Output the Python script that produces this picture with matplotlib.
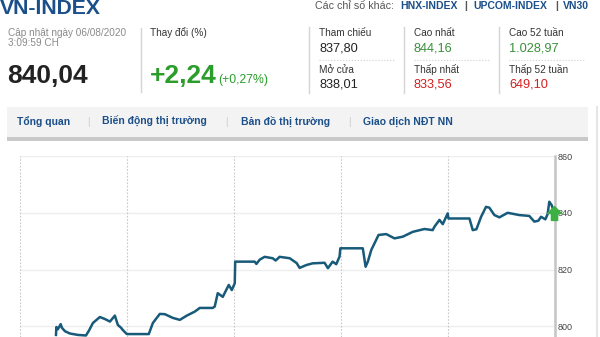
import matplotlib
matplotlib.use('Agg')
import matplotlib.pyplot as plt
from matplotlib.lines import Line2D
from matplotlib.patches import Rectangle
from matplotlib.path import Path

plt.rcParams['font.family'] = ['Liberation Sans', 'DejaVu Sans']

# intraday index, x in sessions (dashed grid = session start)
t = [0.336, 0.340, 0.354, 0.380, 0.392, 0.420, 0.466, 0.541, 0.616, 0.644,
     0.681, 0.746, 0.793, 0.840, 0.886, 0.914, 0.942, 0.961, 0.998, 1.203,
     1.241, 1.306, 1.353, 1.427, 1.493, 1.558, 1.632, 1.679, 1.800, 1.819,
     1.847, 1.894, 1.950, 1.978, 2.006, 2.010, 2.192, 2.208, 2.239, 2.285,
     2.360, 2.388, 2.425, 2.519, 2.584, 2.612, 2.674, 2.733, 2.845, 2.876,
     2.920, 2.954, 2.985, 2.992, 3.202, 3.228, 3.249, 3.281, 3.312, 3.349,
     3.421, 3.498, 3.576, 3.669, 3.778, 3.855, 3.871, 3.918, 3.949, 3.995,
     4.002, 4.198, 4.229, 4.263, 4.307, 4.353, 4.384, 4.431, 4.478, 4.555,
     4.664, 4.757, 4.804, 4.841, 4.867, 4.907, 4.928, 4.944, 4.966, 4.981,
     4.991]
vals = [797.0, 799.8, 799.0, 800.8, 799.5, 798.3, 797.5, 797.0, 796.8, 798.5,
        801.2, 803.3, 802.6, 801.7, 803.8, 800.5, 799.6, 798.7, 797.3, 797.3,
        801.2, 804.4, 804.3, 803.0, 802.3, 803.8, 805.2, 806.5, 806.5, 807.0,
        811.7, 810.4, 814.6, 812.8, 815.2, 822.8, 822.8, 822.0, 823.5, 824.5,
        824.0, 823.2, 824.5, 824.0, 822.3, 820.6, 821.6, 822.2, 822.4, 820.5,
        822.8, 821.9, 824.6, 827.5, 827.5, 821.0, 822.8, 826.9, 829.3, 832.2,
        832.5, 831.0, 831.6, 833.3, 834.3, 833.9, 835.1, 837.5, 836.0, 839.8,
        838.0, 838.0, 833.9, 834.2, 838.6, 842.1, 841.8, 839.2, 838.4, 840.0,
        839.2, 838.9, 836.9, 837.2, 838.6, 837.7, 839.5, 843.9, 842.7, 841.0,
        840.04]
y_ticks = [800, 820, 840, 860]

stats = [
    ("Tham chiếu", "837,80", "#222222", "Mở cửa", "838,01", "#222222"),
    ("Cao nhất", "844,16", "#3a8f3a", "Thấp nhất", "833,56", "#d42020"),
    ("Cao 52 tuần", "1.028,97", "#3a8f3a", "Thấp 52 tuần", "649,10", "#d42020"),
]
tabs = ["Tổng quan", "Biến động thị trường", "Bản đồ thị trường", "Giao dịch NĐT NN"]

W, H = 600, 337
fig = plt.figure(figsize=(W / 100, H / 100), dpi=100)
fig.patch.set_facecolor('white')


def fx(x):
    return x / W


def fy(y):
    return 1 - y / H


def txt(x, y, s, size, color, weight='normal'):
    fig.text(fx(x), fy(y), s, fontsize=size, color=color, weight=weight,
             ha='left', va='baseline')


def hline(x0, x1, y, color, lw=1, ls='-'):
    fig.add_artist(Line2D([fx(x0), fx(x1)], [fy(y), fy(y)], color=color,
                          lw=lw, ls=ls, transform=fig.transFigure))


def vline(x, y0, y1, color, lw=1):
    fig.add_artist(Line2D([fx(x), fx(x)], [fy(y0), fy(y1)], color=color,
                          lw=lw, transform=fig.transFigure))


blue = '#1b4f8a'

# header
txt(0, 13.5, "VN-INDEX", 15.2, blue, 'bold')
txt(8, 36.5, "Cập nhật ngày 06/08/2020", 7.2, '#8a8a8a')
txt(8, 46.5, "3:09:59 CH", 7.2, '#8a8a8a')
txt(7, 82.7, "840,04", 19, '#222222', 'bold')
vline(141, 28, 92, '#d5d5d5')
txt(150.5, 36.5, "Thay đổi (%)", 7.2, '#333333')
txt(150, 82.7, "+2,24", 19, '#2a9d2a', 'bold')
txt(218, 82.7, "(+0,27%)", 8.8, '#2a9d2a')

txt(315, 9.3, "Các chỉ số khác:", 7.7, '#555555')
txt(400, 9.3, "HNX-INDEX", 7.5, blue, 'bold')
txt(464.5, 9.3, "|", 7.5, '#555555', 'bold')
txt(473, 9.3, "UPCOM-INDEX", 7.5, blue, 'bold')
txt(555, 9.3, "|", 7.5, '#555555', 'bold')
txt(563, 9.3, "VN30", 7.5, blue, 'bold')

col_x = [319, 414, 509]
for cx, (l1, v1, c1, l2, v2, c2) in zip(col_x, stats):
    vline(cx - 10.5, 27, 92.5, '#d5d5d5')
    txt(cx, 36, l1, 7.2, '#333333')
    txt(cx, 51.7, v1, 9.2, c1)
    hline(cx, cx + 75, 60, '#cfcfcf', 0.8, ':')
    txt(cx, 73.3, l2, 7.2, '#333333')
    txt(cx, 87.3, v2, 9.2, c2)

# tab bar
fig.add_artist(Rectangle((fx(7.3), fy(137.3)), fx(588.3 - 7.3), 30 / H,
                         facecolor='#f3f3f3', edgecolor='none',
                         transform=fig.transFigure))
fig.add_artist(Rectangle((fx(7.3), fy(140.7)), fx(588.3 - 7.3), 3.4 / H,
                         facecolor='#c9c9c9', edgecolor='none',
                         transform=fig.transFigure))
tab_x = [17.3, 101.7, 240.7, 363.3]
sep_x = [87.3, 225, 348.3]
for x, s in zip(tab_x, tabs):
    txt(x, 125, s, 7.5, blue, 'bold')
for x in sep_x:
    txt(x, 125, "|", 7.5, '#d0d0d0')
vline(597, 107, 337, '#e6e6e6', 1.5)

# chart
y_low = 860 - (337 - 156) / 2.84
ax = fig.add_axes([fx(20), 0, fx(555.3 - 20), (337 - 156) / H])
ax.set_xlim(0, 5)
ax.set_ylim(y_low, 860)
for s in ['top', 'left', 'bottom']:
    ax.spines[s].set_visible(False)
ax.spines['right'].set_color('#c4c4c4')
ax.spines['right'].set_linewidth(1.8)
ax.set_xticks([])
ax.yaxis.tick_right()
ax.set_yticks(y_ticks)
ax.tick_params(axis='y', length=0, pad=2, labelsize=6.5, labelcolor='#444444')
for yv in y_ticks:
    ax.axhline(yv, color='#eeeeee', lw=1, zorder=0)
for xv in range(5):
    ax.axvline(xv, color='#c8c8c8', lw=0.8, ls=(0, (1.5, 1.5)), zorder=0)

ax.plot(t, vals, color='#175a7a', lw=1.8, solid_joinstyle='round', zorder=2)

arrow = Path([(-0.45, -1), (0.45, -1), (0.45, 0), (1, 0), (0, 1), (-1, 0),
              (-0.45, 0), (-0.45, -1)])
ax.plot(t[-1], vals[-1], marker=arrow, ms=10, color='#3cb043',
        mec='#3cb043', clip_on=False, zorder=3)

fig.savefig('out.png', dpi=100, facecolor='white')
